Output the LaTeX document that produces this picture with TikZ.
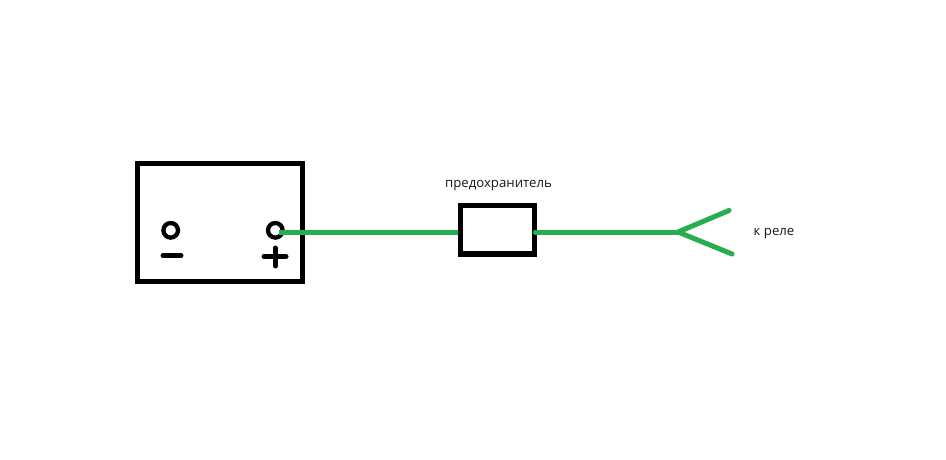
\documentclass[tikz,border=0pt]{standalone}
\usepackage{fontspec}
\setmainfont{Open Sans}
\definecolor{wire}{HTML}{25AD4E}
\tikzset{
  x=1pt,y=-1pt,
  outline/.style={draw=black,line width=5.2pt,fill=white,inner sep=0pt,outer sep=0pt,rectangle},
  terminal/.style={draw=black,line width=4.3pt,circle,inner sep=0pt,outer sep=0pt,minimum size=14.6pt},
  sign/.style={draw=black,line width=5pt,line cap=round},
  wireline/.style={draw=wire,line width=5pt,line cap=round,line join=round},
  caption/.style={font=\fontsize{13.2}{15}\selectfont,text=black!90,inner sep=0pt}
}
\begin{document}
\begin{tikzpicture}
\useasboundingbox[fill=white] (0,0) rectangle (946,460);
\node[outline,minimum width=165pt,minimum height=118pt] (battery) at (220,222.5) {};
\node[terminal] (minusterm) at (170.7,230.3) {};
\node[terminal] (plusterm) at (275.3,230.3) {};
\draw[sign] (163,255.5) -- (181,255.5);
\draw[sign] (264,256.5) -- (286,256.5);
\draw[sign] (275.3,248) -- (275.3,266);
\node[outline,minimum width=73.7pt,minimum height=48.5pt] (fuse) at (497.4,229.8) {};
\coordinate (wirestart) at (279,232);
\coordinate (forkpoint) at (678,232);
\coordinate (endtop) at (729,210.5);
\coordinate (endbottom) at (732,254);
\draw[wireline,line cap=butt] (wirestart) -- ([xshift=-2.5pt]wirestart -| fuse.west);
\draw[wireline] (wirestart -| fuse.east) ++(1,0) -- (forkpoint);
\draw[wireline] (endtop) -- (forkpoint) -- (endbottom);
\node[caption] (fuselabel) at (498.5,185.5) {предохранитель};
\node[caption] (relaylabel) at (774,233.5) {к реле};
\end{tikzpicture}
\end{document}
